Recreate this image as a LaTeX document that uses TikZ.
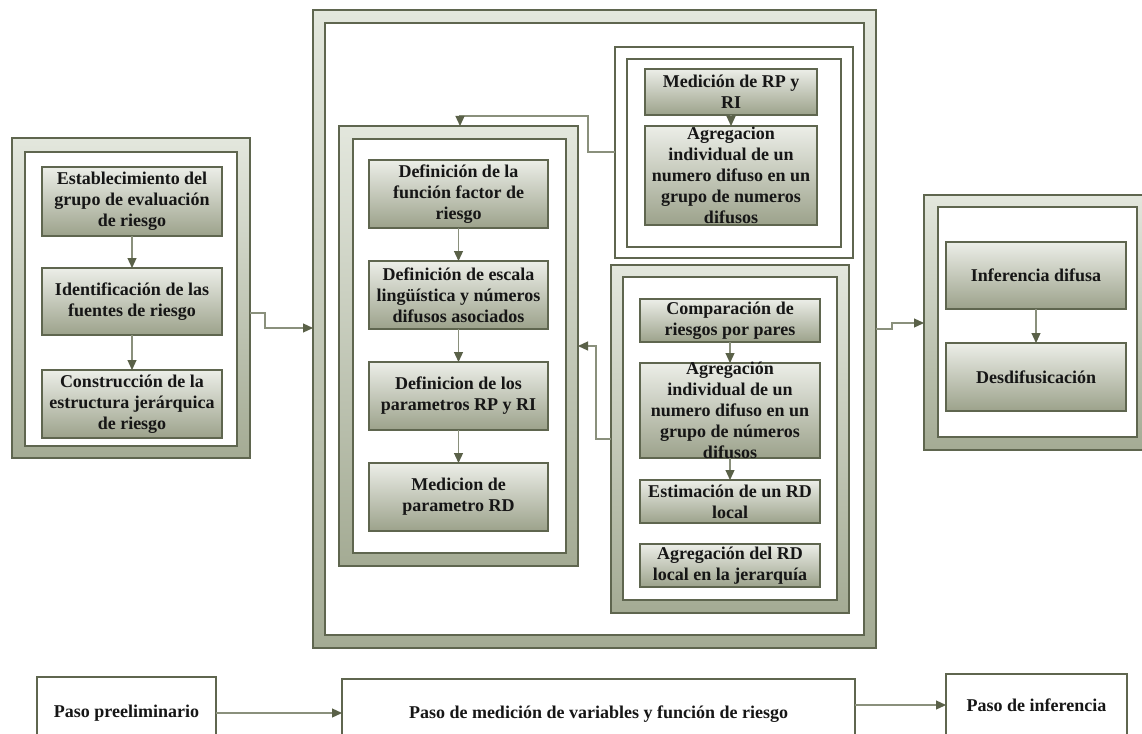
\documentclass[tikz,border=0pt]{standalone}
\usepackage{fontspec}
\setmainfont{Liberation Serif}
\usetikzlibrary{arrows.meta,fit,calc}

\definecolor{edge}{HTML}{5F664F}
\definecolor{wire}{HTML}{8A907C}
\definecolor{tipc}{HTML}{5A6148}
\definecolor{boxtop}{HTML}{ECEEE8}
\definecolor{boxbot}{HTML}{9CA28B}
\definecolor{bandtop}{HTML}{E3E7DD}
\definecolor{bandbot}{HTML}{A4AB94}
\definecolor{ink}{HTML}{161616}

\tikzset{
  region/.style={draw=edge, line width=1.4pt, inner sep=0pt, outer sep=0pt},
  band/.style={region, top color=bandtop, bottom color=bandbot},
  plain/.style={region, fill=white},
  stepbox/.style={region, top color=boxtop, bottom color=boxbot},
  btext/.style={font=\bfseries\fontsize{18}{21}\selectfont, text=ink, align=center, inner sep=0pt},
  flow/.style={draw=wire, line width=1.2pt, -{Triangle[length=10pt,width=9pt,color=tipc]}},
}

% box with its caption: style, name, x1, y1, x2, y2, text
\newcommand\gbox[7]{%
  \node[#1, fit={(#3,#4) (#5,#6)}] (#2) {};
  \node[btext] (#2-t) at (#2.center) {#7};}

\begin{document}
\begin{tikzpicture}[x=1pt,y=-1pt]
\useasboundingbox (0,0) rectangle (1142,733);
\clip (0,0) rectangle (1142,733);

% preliminary step
\node[band,  fit={(12,138) (250,458)}] (Lo) {};
\node[plain, fit={(25,152) (237,446)}] (Li) {};
\gbox{stepbox}{L1}{42}{167}{222}{236}{Establecimiento del\\grupo de evaluación\\de riesgo}
\gbox{stepbox}{L2}{42}{268}{222}{335}{Identificación de las\\fuentes de riesgo}
\gbox{stepbox}{L3}{42}{370}{222}{438}{Construcción de la\\estructura jerárquica\\de riesgo}

% measurement step
\node[band,  fit={(313,10) (876,648)}] (Co) {};
\node[plain, fit={(325,23) (864,635)}] (Ci) {};

\node[band,  fit={(339,126) (578,566)}] (So) {};
\node[plain, fit={(353,139) (566,553)}] (Si) {};
\gbox{stepbox}{C1}{369}{160}{548}{228}{Definición de la\\función factor de\\riesgo}
\gbox{stepbox}{C2}{369}{261}{548}{329}{Definición de escala\\lingüística y números\\difusos asociados}
\gbox{stepbox}{C3}{369}{362}{548}{430}{Definicion de los\\parametros RP y RI}
\gbox{stepbox}{C4}{369}{463}{548}{531}{Medicion de\\parametro RD}

\node[plain, fit={(615,47) (853,258)}] (To) {};
\node[plain, fit={(627,59) (841,247)}] (Ti) {};
\gbox{stepbox}{T1}{645}{69}{817}{115}{Medición de RP y\\RI}
\gbox{stepbox}{T2}{645}{126}{817}{225}{Agregacion\\individual de un\\numero difuso en un\\grupo de numeros\\difusos}

\node[band,  fit={(611,265) (849,613)}] (Bo) {};
\node[plain, fit={(623,277) (837,600)}] (Bi) {};
\gbox{stepbox}{B1}{640}{299}{820}{342}{Comparación de\\riesgos por pares}
\gbox{stepbox}{B2}{640}{363}{820}{458}{Agregación\\individual de un\\numero difuso en un\\grupo de números\\difusos}
\gbox{stepbox}{B3}{640}{480}{820}{523}{Estimación de un RD\\local}
\gbox{stepbox}{B4}{640}{544}{820}{587}{Agregación del RD\\local en la jerarquía}

% inference step
\node[band,  fit={(924,195) (1151,450)}] (Ro) {};
\node[plain, fit={(938,207) (1137,437)}] (Ri) {};
\gbox{stepbox}{R1}{946}{242}{1126}{309}{Inferencia difusa}
\gbox{stepbox}{R2}{946}{343}{1126}{411}{Desdifusicación}

% step captions along the bottom
\gbox{plain}{P1}{37}{677}{216}{749}{Paso preeliminario}
\gbox{plain}{P2}{342}{679}{855}{749}{Paso de medición de variables y función de riesgo}
\gbox{plain}{P3}{946}{674}{1127}{736}{Paso de inferencia}

% flow inside the boxes
\draw[flow] (L1.south) -- (L2.north);
\draw[flow] (L2.south) -- (L3.north);
\draw[flow] (C1.south) -- (C2.north);
\draw[flow] (C2.south) -- (C3.north);
\draw[flow] (C3.south) -- (C4.north);
\draw[flow] (T1.south) -- (T2.north);
\draw[flow] (B1.south) -- (B2.north);
\draw[flow] (B2.south) -- (B3.north);
\draw[flow] (R1.south) -- (R2.north);

% flow between the groups
\coordinate (k1) at (265,313);
\coordinate (k2) at (265,328);
\draw[flow] (Lo.east |- k1) -- (k1) -- (k2) -- (Co.west |- k2);
\coordinate (k3) at (892,329);
\coordinate (k4) at (892,323);
\draw[flow] (Co.east |- k3) -- (k3) -- (k4) -- (Ro.west |- k4);
\coordinate (k5) at (588,152);
\coordinate (k6) at (588,116);
\coordinate (k7) at (460,116);
\draw[flow] (To.west |- k5) -- (k5) -- (k6) -- (k7) -- (So.north -| k7);
\coordinate (k8) at (596,439);
\coordinate (k9) at (596,346);
\draw[flow] (Bo.west |- k8) -- (k8) -- (k9) -- (So.east |- k9);

\draw[flow] (P1.east) -- (P1.east -| P2.west);
\draw[flow] (P2.east |- P3.west) -- (P3.west);
\end{tikzpicture}
\end{document}
